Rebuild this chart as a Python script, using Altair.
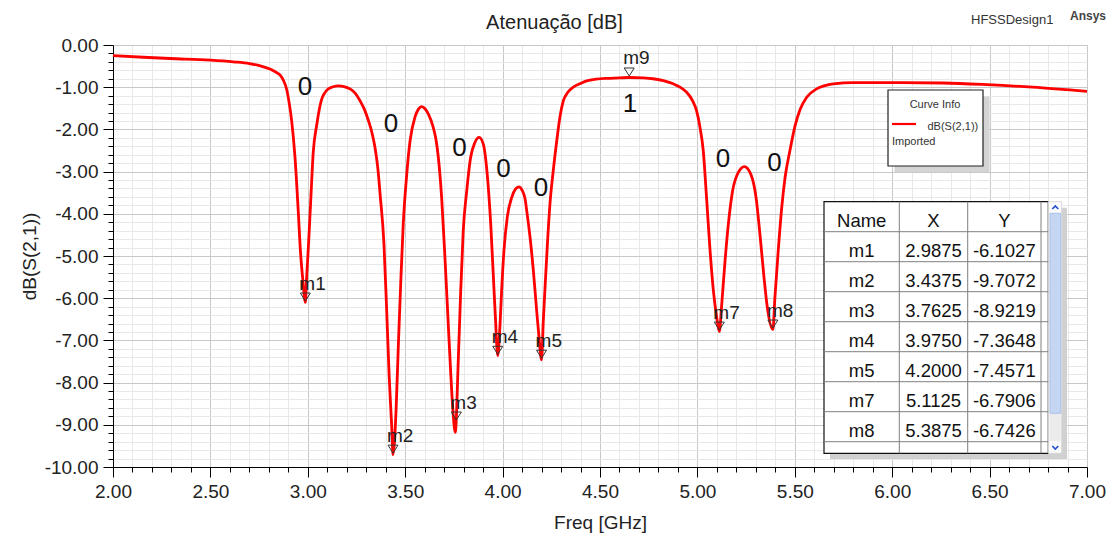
import altair as alt
import pandas as pd

# ---------------- data ----------------
freq = [2.000, 2.156, 2.293, 2.500, 2.618, 2.700, 2.760, 2.806, 2.835, 2.857,
        2.875, 2.892, 2.905, 2.917, 2.934, 2.951, 2.963, 2.974, 2.9875, 2.994,
        3.003, 3.015, 3.028, 3.046, 3.071, 3.105, 3.130, 3.157, 3.190, 3.217,
        3.243, 3.268, 3.290, 3.311, 3.330, 3.345, 3.360, 3.371, 3.391, 3.405,
        3.418, 3.431, 3.4375, 3.453, 3.465, 3.477, 3.490, 3.508, 3.525, 3.550,
        3.568, 3.585, 3.602, 3.619, 3.644, 3.658, 3.670, 3.687, 3.704, 3.721,
        3.734, 3.744, 3.757, 3.773, 3.785, 3.798, 3.816, 3.836, 3.858, 3.880,
        3.901, 3.921, 3.939, 3.952, 3.963, 3.975, 3.987, 3.995, 4.007, 4.024,
        4.047, 4.065, 4.084, 4.100, 4.115, 4.124, 4.141, 4.158, 4.175, 4.187,
        4.200, 4.209, 4.218, 4.230, 4.243, 4.260, 4.278, 4.295, 4.312, 4.335,
        4.363, 4.400, 4.432, 4.480, 4.534, 4.600, 4.650, 4.720, 4.772, 4.830,
        4.876, 4.915, 4.945, 4.975, 4.996, 5.013, 5.030, 5.048, 5.065, 5.082,
        5.099, 5.1125, 5.125, 5.142, 5.159, 5.181, 5.210, 5.241, 5.274, 5.301,
        5.321, 5.342, 5.359, 5.3875, 5.398, 5.415, 5.433, 5.450, 5.475, 5.500,
        5.526, 5.561, 5.612, 5.650, 5.698, 5.800, 6.040, 6.262, 6.485, 6.720,
        7.000]
s21 = [-0.25, -0.29, -0.32, -0.36, -0.40, -0.44, -0.50, -0.57, -0.64, -0.71,
       -0.84, -1.06, -1.39, -1.79, -2.64, -3.94, -4.94, -5.54, -6.10, -5.51,
       -4.79, -3.69, -2.54, -1.89, -1.29, -1.04, -0.99, -0.97, -0.99, -1.04,
       -1.14, -1.32, -1.52, -1.79, -2.09, -2.43, -2.94, -3.53, -4.72, -6.30,
       -7.88, -9.06, -9.71, -8.67, -7.09, -5.64, -4.24, -3.06, -2.27, -1.71,
       -1.52, -1.46, -1.51, -1.64, -1.95, -2.24, -2.66, -3.61, -5.03, -6.61,
       -7.80, -8.59, -9.18, -7.40, -5.82, -4.40, -3.45, -2.66, -2.31, -2.19,
       -2.35, -3.06, -4.24, -5.43, -6.45, -7.36, -6.61, -5.82, -4.87, -4.08,
       -3.61, -3.42, -3.36, -3.44, -3.64, -3.93, -4.56, -5.35, -6.30, -6.93,
       -7.46, -6.53, -5.74, -4.72, -3.77, -2.98, -2.27, -1.69, -1.32, -1.12,
       -1.00, -0.91, -0.85, -0.81, -0.79, -0.78, -0.77, -0.78, -0.80, -0.85,
       -0.92, -1.01, -1.12, -1.32, -1.56, -1.94, -2.50, -3.69, -4.87, -5.82,
       -6.45, -6.79, -6.14, -5.11, -4.24, -3.45, -3.02, -2.88, -3.06, -3.61,
       -4.48, -5.51, -6.22, -6.74, -5.98, -4.87, -3.85, -3.14, -2.50, -1.94,
       -1.54, -1.24, -1.04, -0.97, -0.92, -0.89, -0.89, -0.90, -0.94, -1.00,
       -1.10]

mk_names = ["m1", "m2", "m3", "m4", "m5", "m7", "m8"]
mk_x = [2.9875, 3.4375, 3.7625, 3.9750, 4.2000, 5.1125, 5.3875]
mk_y = [-6.1027, -9.7072, -8.9219, -7.3648, -7.4571, -6.7906, -6.7426]
mk_xs = ["2.9875", "3.4375", "3.7625", "3.9750", "4.2000", "5.1125", "5.3875"]
mk_ys = ["-6.1027", "-9.7072", "-8.9219", "-7.3648", "-7.4571", "-6.7906", "-6.7426"]
m9_name, m9_x, m9_y = "m9", 4.65, -0.77

note_text = ["0", "0", "0", "0", "0", "0", "0", "1"]
note_x = [2.986, 3.427, 3.779, 4.005, 4.197, 5.131, 5.396, 4.654]
note_y = [-0.994, -1.863, -2.443, -2.945, -3.378, -2.692, -2.786, -1.402]

x_ticks = [round(2 + 0.1 * i, 1) for i in range(51)]
y_ticks = [round(-10 + 0.2 * i, 1) for i in range(51)]

# ---------------- layout ----------------
OX, OY = 113, 45
W, H = 974, 422
FONT = "Liberation Sans"


def rx(v):
    return v - OX


def ry(v):
    return v - OY


curve = pd.DataFrame({"freq": freq, "db": s21})
markers = pd.DataFrame({"name": mk_names + [m9_name], "x": mk_x + [m9_x], "y": mk_y + [m9_y]})
notes = pd.DataFrame({"t": note_text, "x": note_x, "y": note_y})

xscale = alt.Scale(domain=[2, 7], nice=False, zero=False)
yscale = alt.Scale(domain=[-10, 0], nice=False, zero=False)

MAJ_X = "abs(datum.value*2 - round(datum.value*2)) < 0.01"
MAJ_Y = "abs(datum.value - round(datum.value)) < 0.01"
FMT = "replace(format(datum.value, '.2f'), '\u2212', '-')"

common_axis = dict(
    grid=True, labelOverlap=False, labelFontSize=19, labelFont=FONT, labelColor="#222",
    labelPadding=5, titleFontSize=19, titleFont=FONT, titleColor="#222",
    titleFontWeight="normal", domainColor="black", tickColor="black", tickWidth=1,
    domainWidth=1, gridWidth=1, tickCount=200,
)

x_axis = alt.Axis(
    values=x_ticks, title="Freq [GHz]", labelExpr=f"{MAJ_X} ? {FMT} : ''",
    tickSize={"condition": {"test": MAJ_X, "value": 10}, "value": 5},
    gridColor={"condition": {"test": MAJ_X, "value": "#c8c8c8"}, "value": "#e8e8e8"},
    labelFlush=False, titlePadding=12, **common_axis,
)
y_axis = alt.Axis(
    values=y_ticks, title="dB(S(2,1))", labelExpr=f"{MAJ_Y} ? {FMT} : ''",
    tickSize={"condition": {"test": MAJ_Y, "value": 10}, "value": 5},
    gridColor={"condition": {"test": MAJ_Y, "value": "#c8c8c8"}, "value": "#e8e8e8"},
    titlePadding=5, **common_axis,
)

line = alt.Chart(curve).mark_line(color="#ff0000", strokeWidth=2.8, interpolate="monotone").encode(
    x=alt.X("freq:Q", scale=xscale, axis=x_axis),
    y=alt.Y("db:Q", scale=yscale, axis=y_axis),
)

tri = alt.Chart(markers).mark_point(
    shape="M-1,-1.9L1,-1.9L0,-0.3Z", size=100, filled=False, color="#333", strokeWidth=1, opacity=1
).encode(x=alt.X("x:Q", scale=xscale, axis=x_axis), y=alt.Y("y:Q", scale=yscale, axis=y_axis))

mk_lbl = alt.Chart(markers).mark_text(
    align="left", baseline="alphabetic", dx=-6, dy=-13, fontSize=19, font=FONT, color="#222"
).encode(x=alt.X("x:Q", scale=xscale, axis=x_axis), y=alt.Y("y:Q", scale=yscale, axis=y_axis), text="name:N")

note_l = alt.Chart(notes).mark_text(
    align="center", baseline="middle", fontSize=26, font=FONT, color="#111"
).encode(x=alt.X("x:Q", scale=xscale, axis=x_axis), y=alt.Y("y:Q", scale=yscale, axis=y_axis), text="t:N")

# ---------------- overlays (layout in pixels) ----------------
PX = dict(scale=None, axis=None)

boxes = pd.DataFrame([
    # curve info shadow + box
    dict(x=rx(894.5), x2=rx(989.5), y=ry(96.5), y2=ry(172), fill="#d4d4d4", stroke="#d4d4d4", sw=0),
    dict(x=rx(888), x2=rx(983), y=ry(90), y2=ry(166), fill="#ffffff", stroke="#222222", sw=1.2),
    # table shadow + box
    dict(x=rx(830), x2=rx(1067), y=ry(207.7), y2=ry(459), fill="#d0d0d0", stroke="#d0d0d0", sw=0),
    dict(x=rx(824), x2=rx(1048.3), y=ry(201.7), y2=ry(453.3), fill="#ffffff", stroke="#111111", sw=1.2),
    # scrollbar
    dict(x=rx(1048.3), x2=rx(1061.7), y=ry(201.7), y2=ry(453.3), fill="#fafafa", stroke="#d8d8d8", sw=1),
    dict(x=rx(1049.5), x2=rx(1060.7), y=ry(413.3), y2=ry(441), fill="#ebebeb", stroke="#ebebeb", sw=0),
    dict(x=rx(1050), x2=rx(1060.7), y=ry(213.3), y2=ry(413.3), fill="#c4d6f2", stroke="#a9c1e9", sw=1),
])
box_l = alt.Chart(boxes).mark_rect().encode(
    x=alt.X("x:Q", **PX), x2="x2:Q", y=alt.Y("y:Q", **PX), y2="y2:Q",
    fill=alt.Fill("fill:N", scale=None), stroke=alt.Stroke("stroke:N", scale=None),
    strokeWidth=alt.StrokeWidth("sw:Q", scale=None),
)

rules = []
for k in range(8):
    yy = ry(231.7 + 30 * k)
    rules.append(dict(x=rx(824), x2=rx(1048.3), y=yy, y2=yy, c="#808080", w=1))
for cx in (899.3, 967.7, 1041):
    rules.append(dict(x=rx(cx), x2=rx(cx), y=ry(201.7), y2=ry(453.3), c="#808080", w=1))
rules.append(dict(x=rx(892), x2=rx(916), y=ry(124), y2=ry(124), c="#ff0000", w=2.2))
rule_l = alt.Chart(pd.DataFrame(rules)).mark_rule().encode(
    x=alt.X("x:Q", **PX), x2="x2:Q", y=alt.Y("y:Q", **PX), y2="y2:Q",
    color=alt.Color("c:N", scale=None), strokeWidth=alt.StrokeWidth("w:Q", scale=None),
)

chev = pd.DataFrame([
    dict(x=rx(1055.3), y=ry(207.5), shp="M-1,0.5L0,-0.5L1,0.5"),
    dict(x=rx(1055.3), y=ry(447.5), shp="M-1,-0.5L0,0.5L1,-0.5"),
])
chev_l = alt.Chart(chev).mark_point(size=36, filled=False, color="#1f4fd0", strokeWidth=1.6, opacity=1).encode(
    x=alt.X("x:Q", **PX), y=alt.Y("y:Q", **PX), shape=alt.Shape("shp:N", scale=None)
)

# table text from marker arrays
col_cx = [rx(861.7), rx(933.5), rx(1004.3)]
rows = [["Name", "X", "Y"]] + [[n, a, b] for n, a, b in zip(mk_names, mk_xs, mk_ys)]
tcells = []
for i, r in enumerate(rows):
    for j, t in enumerate(r):
        tcells.append(dict(x=col_cx[j], y=ry(201.7 + 30 * i + 25), t=t))
table_txt = alt.Chart(pd.DataFrame(tcells)).mark_text(
    align="center", baseline="alphabetic", fontSize=18.5, font=FONT, color="#111"
).encode(x=alt.X("x:Q", **PX), y=alt.Y("y:Q", **PX), text="t:N")

ci_title = alt.Chart(pd.DataFrame([dict(x=rx(935), y=ry(104.5), t="Curve Info")])).mark_text(
    align="center", baseline="middle", fontSize=11, font=FONT, color="#333"
).encode(x=alt.X("x:Q", **PX), y=alt.Y("y:Q", **PX), text="t:N")
ci_txt = alt.Chart(pd.DataFrame([
    dict(x=rx(927.5), y=ry(127), t="dB(S(2,1))"),
    dict(x=rx(892), y=ry(142.3), t="Imported"),
])).mark_text(align="left", baseline="middle", fontSize=11, font=FONT, color="#333").encode(
    x=alt.X("x:Q", **PX), y=alt.Y("y:Q", **PX), text="t:N")

heads = alt.Chart(pd.DataFrame([
    dict(x=rx(554.5), y=ry(29.3), t="Atenuação [dB]"),
])).mark_text(baseline="alphabetic", font=FONT, color="#222", fontSize=20, align="center").encode(
    x=alt.X("x:Q", **PX), y=alt.Y("y:Q", **PX), text="t:N")
design = alt.Chart(pd.DataFrame([dict(x=rx(971), y=ry(24.3), t="HFSSDesign1")])).mark_text(
    baseline="alphabetic", align="left", font=FONT, color="#333", fontSize=13
).encode(x=alt.X("x:Q", **PX), y=alt.Y("y:Q", **PX), text="t:N")
ansys = alt.Chart(pd.DataFrame([dict(x=rx(1070), y=ry(19.6), t="Ansys")])).mark_text(
    baseline="alphabetic", align="left", font=FONT, color="#444", fontSize=12, fontWeight="bold"
).encode(x=alt.X("x:Q", **PX), y=alt.Y("y:Q", **PX), text="t:N")

chart = alt.layer(
    line, tri, mk_lbl, note_l, box_l, rule_l, chev_l, table_txt, ci_title, ci_txt, heads, design, ansys
).properties(
    width=W, height=H, autosize="none",
    padding={"left": OX, "top": OY, "right": 1112 - OX - W, "bottom": 535 - OY - H},
).configure_view(stroke="black", strokeWidth=1.2).configure(background="white")

chart.save("out.html", embed_options={"renderer": "svg", "actions": False})
